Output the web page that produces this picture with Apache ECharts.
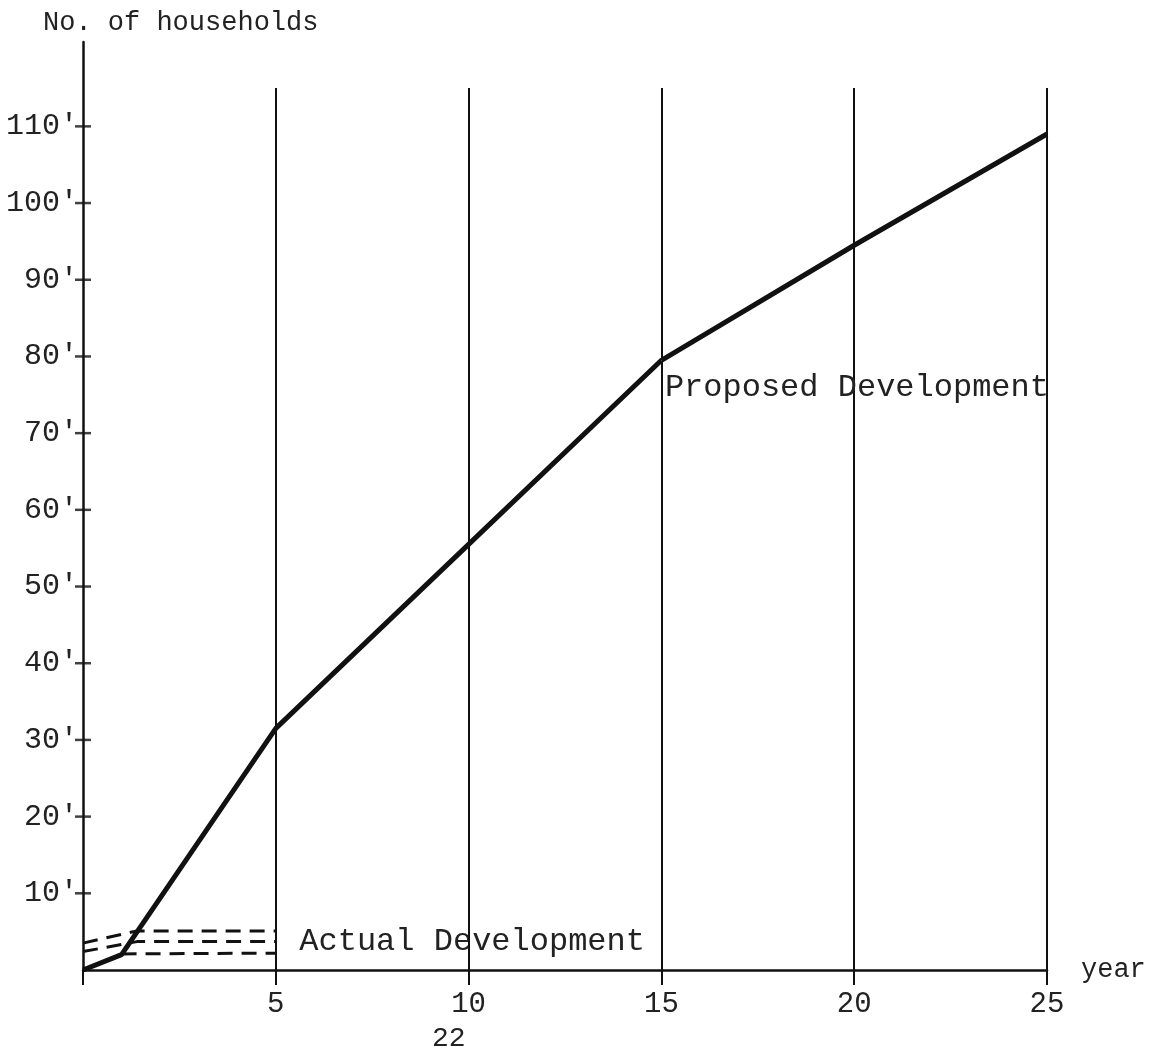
<!DOCTYPE html>
<html>
<head>
<meta charset="utf-8">
<script src="https://cdn.jsdelivr.net/npm/echarts@6/dist/echarts.min.js"></script>
<style>
  html, body { margin: 0; padding: 0; background: #fff; }
  #chart { width: 1160px; height: 1055px; }
</style>
</head>
<body>
<div id="chart"></div>
<script>
// years on the x axis, households (in thousands, written 10' etc.)
const years = [0, 1, 5, 10, 15, 20, 25];
const proposed = [0, 2, 31.5, 55.5, 79.5, 94.5, 109];

// three dashed "actual development" lines
const actualHigh = [[0, 3.5], [1.4, 5.1], [5, 5.1]];
const actualMid = [[0, 2.4], [1.4, 3.7], [5, 3.7]];
const actualLow = [[1.0, 2.1], [5, 2.2]];

const yTicks = [10, 20, 30, 40, 50, 60, 70, 80, 90, 100, 110];
const xTicks = [5, 10, 15, 20, 25];
const gridLineTop = 115;

const font = '"Liberation Mono", "DejaVu Sans Mono", monospace';
const ink = '#111';

const chart = echarts.init(document.getElementById('chart'));

const dashed = (data, withLabel) => ({
    type: 'line',
    data: data.map((p, i) => {
        if (withLabel && i === data.length - 1) {
            return {
                value: p,
                symbol: 'circle',
                symbolSize: 1,
                label: {
                    show: true,
                    position: 'right',
                    distance: 23,
                    formatter: 'Actual Development',
                    fontFamily: font,
                    fontSize: 32,
                    color: '#222',
                },
            };
        }
        return p;
    }),
    showSymbol: withLabel,
    symbol: 'none',
    lineStyle: { color: ink, width: 3, type: [15, 9] },
    silent: true,
    z: 3,
});

const option = {
    backgroundColor: '#fff',
    animation: false,
    textStyle: { fontFamily: font },
    grid: { left: 83, right: 113, top: 42, bottom: 85 },
    xAxis: {
        type: 'value',
        min: 0,
        max: 25,
        interval: 5,
        name: 'year',
        nameLocation: 'end',
        nameGap: 34,
        nameTextStyle: { fontFamily: font, fontSize: 27, color: '#222', padding: [12, 0, 0, 0] },
        axisLine: { show: true, lineStyle: { color: ink, width: 2.5 } },
        axisTick: { show: true, length: 15, lineStyle: { color: ink, width: 2 } },
        axisLabel: {
            margin: 20,
            fontFamily: font,
            fontSize: 29,
            color: '#222',
            formatter: (v) => (v === 0 ? '' : String(v)),
        },
        splitLine: { show: false },
    },
    yAxis: {
        type: 'value',
        min: 0,
        max: 121,
        interval: 10,
        name: 'No. of households',
        nameLocation: 'end',
        nameGap: 6,
        nameTextStyle: {
            fontFamily: font,
            fontSize: 27,
            color: '#222',
            align: 'left',
            padding: [0, 0, 0, -40],
        },
        axisLine: { show: true, lineStyle: { color: ink, width: 2.5 } },
        axisTick: { show: false },
        axisLabel: {
            margin: 5,
            fontFamily: font,
            fontSize: 30,
            color: '#222',
            formatter: (v) => (yTicks.indexOf(v) >= 0 ? v + "'" : ''),
        },
        splitLine: { show: false },
    },
    series: [
        {
            // cross ticks on the y axis
            type: 'scatter',
            data: yTicks.map((v) => [0, v]),
            symbol: 'rect',
            symbolSize: [16, 2.5],
            itemStyle: { color: ink },
            clip: false,
            silent: true,
            z: 4,
        },
        {
            type: 'line',
            data: years.map((y, i) => {
                if (y === 15) {
                    return {
                        value: [y, proposed[i]],
                        symbol: 'circle',
                        symbolSize: 1,
                        label: {
                            show: true,
                            position: [4, 12],
                            align: 'left',
                            verticalAlign: 'top',
                            formatter: 'Proposed Development',
                            fontFamily: font,
                            fontSize: 32,
                            color: '#222',
                        },
                    };
                }
                return [y, proposed[i]];
            }),
            showSymbol: true,
            symbol: 'none',
            lineStyle: { color: ink, width: 5 },
            silent: true,
            z: 5,
            markLine: {
                symbol: 'none',
                silent: true,
                label: { show: false },
                lineStyle: { color: ink, width: 2, type: 'solid' },
                data: xTicks.map((x) => [
                    { coord: [x, 0] },
                    { coord: [x, gridLineTop] },
                ]),
            },
        },
        dashed(actualHigh, false),
        dashed(actualMid, true),
        dashed(actualLow, false),
    ],
    graphic: [
        {
            type: 'text',
            left: 432,
            top: 1025,
            style: { text: '22', fontFamily: font, fontSize: 28, fill: '#222' },
        },
    ],
};

chart.setOption(option);
</script>
</body>
</html>
